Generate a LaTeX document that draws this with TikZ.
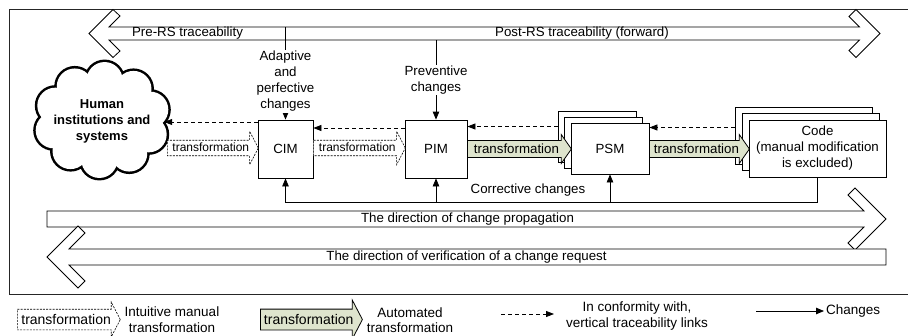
\documentclass[tikz,border=0pt]{standalone}
\usepackage{fontspec}
\setmainfont{Liberation Sans}
\usetikzlibrary{arrows.meta,shapes.arrows,calc}

\definecolor{autofill}{RGB}{222,228,205}

\begin{document}
\begin{tikzpicture}[x=1pt,y=-1pt,
  every node/.style={font=\fontsize{13.3}{16}\selectfont},
  blockarrow/.style={draw, fill=white, line width=0.8pt, line join=miter},
  modelbox/.style={draw, fill=white, line width=0.8pt, inner sep=0pt, align=center},
  trace/.style={line width=0.8pt, dash pattern=on 4pt off 3pt, -{Triangle[length=8pt,width=6pt]}},
  chg/.style={line width=0.8pt, -{Triangle[length=8pt,width=6.5pt]}},
  manual/.style={single arrow, draw, fill=white, line width=0.6pt, dash pattern=on 2pt off 1.2pt,
    single arrow head extend=9pt, single arrow tip angle=125, anchor=tail,
    text height=8.5pt, text depth=1pt, inner ysep=2.7pt, inner xsep=1pt,
    font=\fontsize{12}{14}\selectfont},
  auto/.style={single arrow, draw, fill=autofill, line width=0.8pt,
    single arrow head extend=6pt, single arrow tip angle=110, anchor=tail,
    text height=9.5pt, text depth=1pt, inner ysep=2.8pt, inner xsep=1pt},
  lbl/.style={align=center, inner sep=1pt},
]
\useasboundingbox (0,0) rectangle (908,335);

% outer frame (open to the right)
\draw[line width=0.8pt, black!85] (915,9.5) -- (9.5,9.5) -- (9.5,294.5) -- (915,294.5);

% traceability arrow at the top
\draw[blockarrow] (109,27) -- (120,16) -- (113,9.5) -- (89,33.5) -- (113,57.5) -- (120,51)
  -- (109,40) -- (859.5,40) -- (849,50.5) -- (856,57.5) -- (880,33.5) -- (856,9.5)
  -- (849,16.5) -- (859.5,27) -- cycle;
\draw[line width=0.8pt] (285.5,27) -- (285.5,40);
\node (pre) at (187.5,33.5) {Pre-RS traceability};
\node (post) at (582,33.5) {Post-RS traceability (forward)};
\coordinate (adapt) at (285.5,40);
\coordinate (prev) at (436,40);

% cloud: ring of puffs, stroked wide and then filled so only the outer rim stays
\coordinate (cc) at (102,120);
\foreach \a in {21,57,...,345}
  \draw[line width=5pt] ($(cc)+(\a:50 and 40)$) circle (18);
\foreach \a in {21,57,...,345}
  \fill[white] ($(cc)+(\a:50 and 40)$) circle (18);
\fill[white] (cc) ellipse (52 and 42);
\node[align=center, inner sep=0pt, minimum width=124pt, minimum height=116pt,
  font=\fontsize{13}{16}\selectfont\bfseries] (cloud) at (102,121)
  {Human\\institutions and\\systems};

% models
\node[modelbox, minimum width=55pt, minimum height=58pt] (cim) at (285.5,149) {CIM};
\node[modelbox, minimum width=62pt, minimum height=58pt] (pim) at (436,149) {PIM};
\node[modelbox, minimum width=78pt, minimum height=51pt] (psmB) at (597,136.5) {};
\node[modelbox, minimum width=78pt, minimum height=51pt] (psmM) at (603.5,142.5) {};
\node[modelbox, minimum width=137pt, minimum height=57pt] (codeB) at (803.5,135.5) {};
\node[modelbox, minimum width=137pt, minimum height=57pt] (codeM) at (810.5,142) {};

% transformations
\node[manual, minimum height=91pt] (t1) at (167,148) {transformation};
\node[manual, minimum height=92pt] (t2) at (313,148) {transformation};
\node[auto, minimum height=104pt] (t3) at (467,149) {transformation};
\node[auto, minimum height=100pt] (t4) at (649,149) {transformation};

\node[modelbox, minimum width=78pt, minimum height=51pt] (psm) at (610,148.5) {PSM};
\node[modelbox, minimum width=137pt, minimum height=57pt] (code) at (817.5,148.5)
  {Code\\(manual modification\\is excluded)};

% vertical traceability links
\draw[trace] ([yshift=27pt]cim.west) -- ([yshift=27pt]cim.west -| cloud.east);
\draw[trace] ([yshift=21pt]pim.west) -- ([yshift=21pt]pim.west -| cim.east);
\draw[trace] ([yshift=10pt]psmB.west) -- ([yshift=10pt]psmB.west -| pim.east);
\draw[trace] ([yshift=8pt]codeB.west) -- ([yshift=8pt]codeB.west -| psm.east);

% changes from above
\draw[chg] (adapt) -- (cim.north);
\draw[chg] (prev) -- (pim.north);
\node[lbl, fill=white] (adlbl) at (285.5,81.5) {Adaptive\\and\\perfective\\changes};
\node[lbl, fill=white] (pvlbl) at (436,80) {Preventive\\changes};

% corrective changes
\coordinate (bus) at (0,202);
\draw[chg] (code.south) |- (bus -| cim.south) -- (cim.south);
\draw[chg] (bus -| pim.south) -- (pim.south);
\draw[chg] (bus -| psm.south) -- (psm.south);
\node (corr) at (528,190) {Corrective changes};

% direction arrows at the bottom
\draw[blockarrow] (47,211) -- (864,211) -- (848,195) -- (855,188) -- (886,219) -- (855,250)
  -- (848,243) -- (864,227) -- (47,227) -- cycle;
\draw[blockarrow] (886,249) -- (886,265) -- (69,265) -- (85,281) -- (78,288) -- (47,257)
  -- (78,226) -- (85,233) -- (69,249) -- cycle;
\node (prop) at (467.5,219) {The direction of change propagation};
\node (verif) at (466.5,257) {The direction of verification of a change request};

% legend
\node[manual, minimum height=103pt, single arrow head extend=7pt, text height=10pt, text depth=1pt,
  inner ysep=4.5pt, font=\fontsize{14}{16}\selectfont] (lgm) at (17,319.5) {transformation};
\node[lbl, font=\fontsize{13.5}{15.5}\selectfont] (lgmt) at (172,319.5) {Intuitive manual\\transformation};
\node[auto, minimum height=102pt, single arrow head extend=9pt, single arrow tip angle=125,
  text height=10pt, text depth=1pt, inner ysep=4.5pt, font=\fontsize{14}{16}\selectfont] (lga) at (260,319.5) {transformation};
\node[lbl, font=\fontsize{13.5}{15.5}\selectfont] (lgat) at (410,320) {Automated\\transformation};
\coordinate (lt1) at (501,314);
\coordinate (lt2) at (554,314);
\draw[trace] (lt1) -- (lt2);
\node[lbl, font=\fontsize{13.5}{15.5}\selectfont] (lgt) at (637,316) {In conformity with,\\vertical traceability links};
\coordinate (lc1) at (756,311);
\node[anchor=west, inner sep=2pt, font=\fontsize{13.5}{15.5}\selectfont] (lgc) at (824,311) {Changes};
\draw[chg] (lc1) -- (lgc.west);
\end{tikzpicture}
\end{document}
